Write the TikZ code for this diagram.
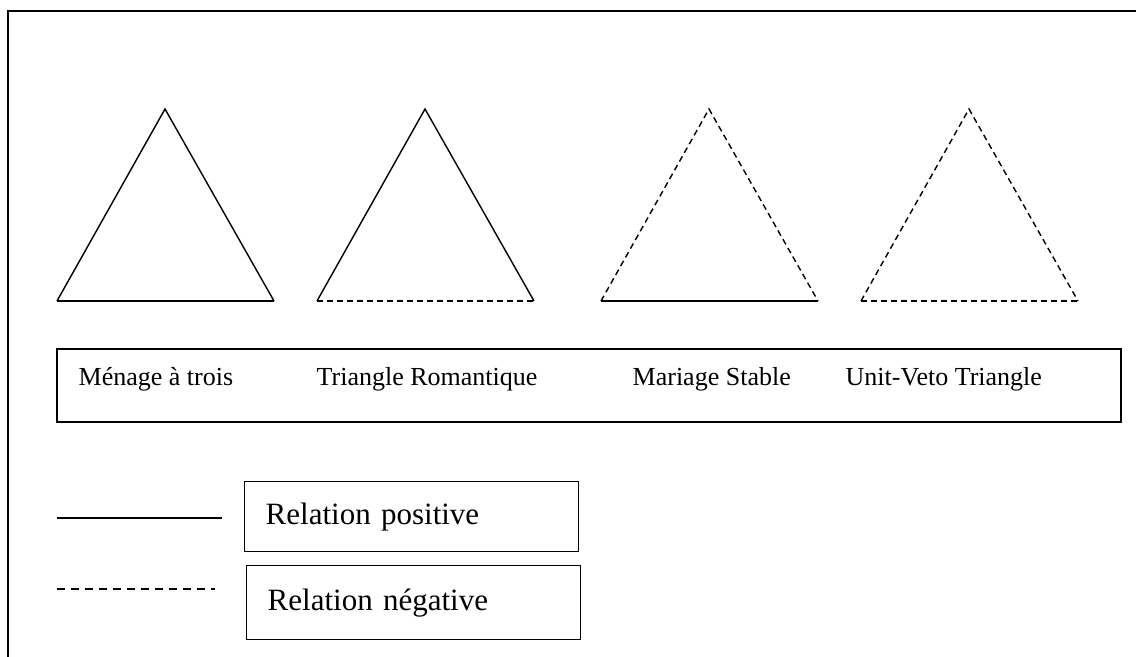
\documentclass[tikz,border=0pt]{standalone}
\usepackage{fontspec}
\setmainfont{Liberation Serif}
\usetikzlibrary{positioning}

\begin{document}
\begin{tikzpicture}
[
x=0.5pt, y=-0.5pt,
line width=0.7pt,
posline/.style={solid},
negline/.style={dash pattern=on 3pt off 2pt},
keyneg/.style={line width=0.9pt, dash pattern=on 4pt off 3pt},
label/.style={anchor=base west, inner sep=0pt, font=\fontsize{13}{15}\selectfont},
legbox/.style={draw, anchor=north west, inner xsep=10.5pt, inner ysep=0pt, align=left, font=\fontsize{15.5}{18}\selectfont},
]
\useasboundingbox (0,0) rectangle (1136,657);

% frame
\draw (1136,11) -- (8,11) -- (8,657);

% triangles
\foreach \x / \side / \base in {57/posline/posline, 317/posline/negline, 601/negline/posline, 861/negline/negline}
{
\draw [\side] (\x,301) -- (\x+108,109) -- (\x+217,301);
\draw [\base] (\x,301) -- (\x+217,301);
}

% names
\draw (57,349) rectangle (1121,422);
\node (t1) [label] at (78,386) {Ménage à trois};
\node (t2) [label] at (316,386) {Triangle Romantique};
\node (t3) [label] at (632,386) {Mariage Stable};
\node (t4) [label] at (845,386) {Unit-Veto Triangle};

% legend
\draw [posline] (57,518) -- (222,518);
\draw [keyneg] (57,589) -- (215,589);
\node (pos) [legbox, text width=146pt, minimum height=35pt] at (244,481) {Relation positive};
\node (neg) [legbox, text width=146pt, minimum height=37pt] at (246,565) {Relation négative};
\end{tikzpicture}
\end{document}
